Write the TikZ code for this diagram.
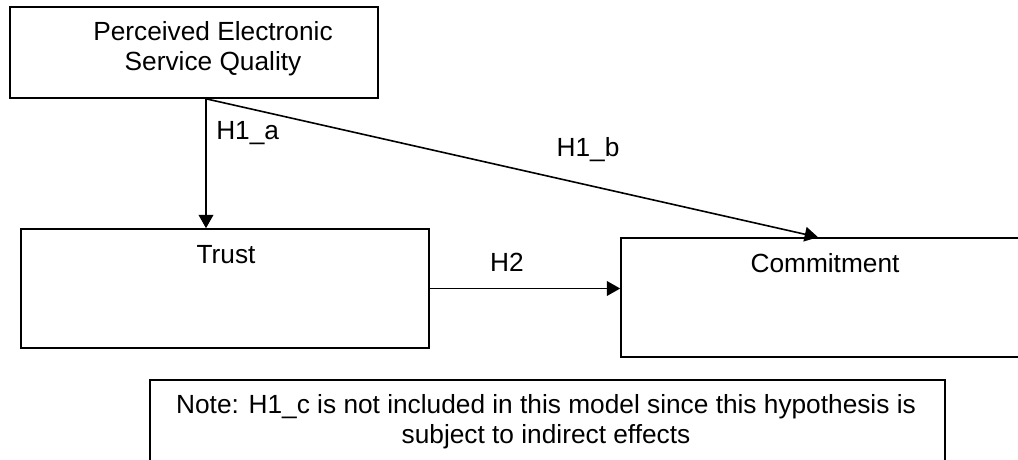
\documentclass[tikz,border=0pt]{standalone}
\usepackage{fontspec}
\setmainfont{Liberation Sans}
\usetikzlibrary{arrows.meta}
\begin{document}
\begin{tikzpicture}[x=0.75pt,y=-0.75pt,
  box/.style={draw=black,line width=1.2pt,fill=white,inner sep=0pt},
  lbl/.style={inner sep=0pt,font=\fontsize{19.7}{22.5}\selectfont,align=center},
  link/.style={draw=black,line width=1.2pt,-{Triangle[length=10pt,width=11pt]}}]
\clip (0,0) rectangle (1018,460);
\fill[white] (0,0) rectangle (1018,460);

% boxes
\node[box,minimum width=276pt,minimum height=68.25pt] (pesq) at (194,52.5) {};
\node[box,minimum width=306pt,minimum height=89.25pt] (trust) at (225,288.5) {};
\node[box,minimum width=314.25pt,minimum height=89.25pt] (commit) at (830.5,297.5) {};
\node[box,minimum width=596.25pt,minimum height=75pt] (note) at (547.5,430) {};

% box texts
\node[lbl] (pesqtxt) at (213,49) {Perceived Electronic\\Service Quality};
\node[lbl] (trusttxt) at (226,255) {Trust};
\node[lbl] (committxt) at (825,263) {Commitment};
\node[lbl] (notetxt) at (546,422) {Note: H1\_c is not included in this model since this hypothesis is\\subject to indirect effects};

% connector anchors along the box edges
\coordinate (ha) at (206,0);
\coordinate (hb) at (818,0);

% connectors
\draw[link] (pesq.south -| ha) -- (trust.north -| ha);
\draw[link] (pesq.south -| ha) -- (commit.north -| hb);
\draw[link] (trust.east) -- (commit.west |- trust.east);

% connector labels
\node[lbl,anchor=west] (la) at (216,133) {H1\_a};
\node[lbl] (lb) at (588,150) {H1\_b};
\node[lbl] (lc) at (507,262) {H2};
\end{tikzpicture}
\end{document}
